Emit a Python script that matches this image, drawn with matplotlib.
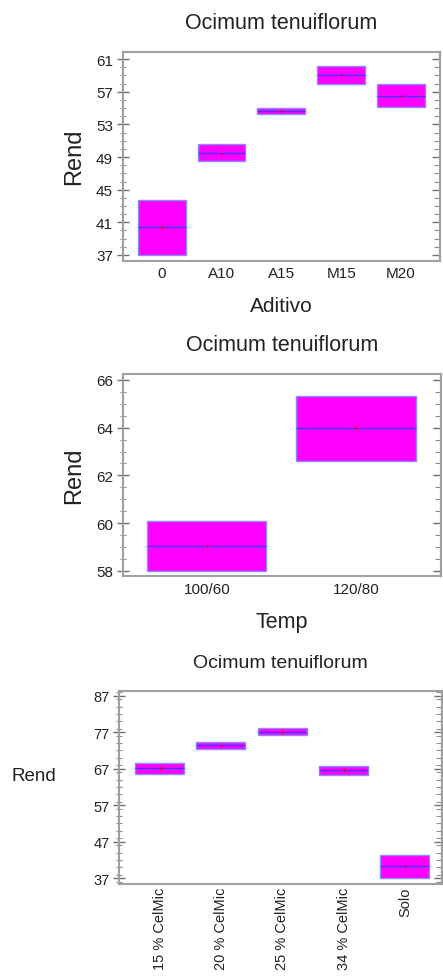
import matplotlib
matplotlib.use("Agg")
import matplotlib.pyplot as plt
from matplotlib.ticker import MultipleLocator
import numpy as np

plt.rcParams['font.family'] = ['Liberation Sans', 'DejaVu Sans']

title = "Ocimum tenuiflorum"

# Panel 1: Aditivo
aditivo_cats = ["0", "A10", "A15", "M15", "M20"]
aditivo_low = [37.0, 48.5, 54.3, 58.0, 55.1]
aditivo_med = [40.4, 49.5, 54.6, 59.0, 56.5]
aditivo_high = [43.7, 50.6, 55.0, 60.15, 57.9]

# Panel 2: Temp
temp_cats = ["100/60", "120/80"]
temp_low = [58.0, 62.6]
temp_med = [59.05, 63.97]
temp_high = [60.1, 65.32]

# Panel 3: CelMic
cel_cats = ["15 % CelMic", "20 % CelMic", "25 % CelMic", "34 % CelMic", "Solo"]
cel_low = [65.5, 72.5, 76.3, 65.3, 37.0]
cel_med = [67.1, 73.4, 77.15, 66.6, 40.3]
cel_high = [68.7, 74.4, 78.1, 67.85, 43.5]

W, H = 443, 978
fig = plt.figure(figsize=(W / 100, H / 100), dpi=100)

FILL = '#ff00ff'
EDGE = '#8a8aff'
MED = '#3a3aff'
SPINE = '#a0a0a0'
TXT = '#222222'


def make_ax(left, right, top, bottom):
    return fig.add_axes([left / W, 1 - bottom / H, (right - left) / W, (bottom - top) / H])


def draw(ax, cats, low, med, high, ylim, yticks, minor, xlim, tick_fs, rot=0, xpad=3):
    x = np.arange(len(cats))
    low = np.array(low); med = np.array(med); high = np.array(high)
    ax.bar(x, high - low, bottom=low, width=0.8, color=FILL, edgecolor=EDGE, linewidth=1.0, zorder=2)
    ax.hlines(med, x - 0.4, x + 0.4, color=MED, linewidth=1.0, zorder=3)
    ax.plot(x, med, '+', color='#e00030', markersize=3, markeredgewidth=0.6, zorder=4)
    ax.set_xlim(*xlim)
    ax.set_ylim(*ylim)
    ax.set_xticks(x)
    ax.set_xticklabels(cats, rotation=rot, fontsize=tick_fs, color=TXT)
    ax.set_yticks(yticks)
    ax.set_yticklabels([str(t) for t in yticks], fontsize=tick_fs, color=TXT)
    ax.yaxis.set_minor_locator(MultipleLocator(minor))
    ax.tick_params(axis='x', length=0, pad=xpad)
    ax.tick_params(axis='y', which='major', direction='inout', length=8, width=1, color='#707070', pad=3)
    ax.tick_params(axis='y', which='minor', direction='inout', length=5, width=0.8, color='#909090')
    for s in ax.spines.values():
        s.set_color(SPINE)
        s.set_linewidth(1.5)
    sec = ax.secondary_yaxis('right')
    sec.set_yticks(yticks)
    sec.set_yticklabels([])
    sec.yaxis.set_minor_locator(MultipleLocator(minor))
    sec.tick_params(axis='y', which='major', direction='in', length=6, width=1, color='#707070', labelright=False)
    sec.tick_params(axis='y', which='minor', direction='in', length=4, width=0.8, color='#909090')
    sec.spines['right'].set_color(SPINE)
    sec.spines['right'].set_linewidth(1.5)


# Panel 1
ax1 = make_ax(122.7, 440, 52.7, 261.7)
draw(ax1, aditivo_cats, aditivo_low, aditivo_med, aditivo_high,
     (36.3, 61.9), [37, 41, 45, 49, 53, 57, 61], 1, (-0.65, 4.65), 11, xpad=4)
ax1.set_title(title, fontsize=15.5, color=TXT, pad=17)
ax1.set_ylabel("Rend", fontsize=17, color=TXT, labelpad=8)
ax1.set_xlabel("Aditivo", fontsize=15, color=TXT, labelpad=11.5)

# Panel 2
ax2 = make_ax(122.7, 440.7, 375, 577)
draw(ax2, temp_cats, temp_low, temp_med, temp_high,
     (57.78, 66.25), [58, 60, 62, 64, 66], 0.5, (-0.563, 1.567), 11, xpad=4)
ax2.set_title(title, fontsize=15.5, color=TXT, pad=17)
ax2.set_ylabel("Rend", fontsize=17, color=TXT, labelpad=8)
ax2.set_xlabel("Temp", fontsize=15.5, color=TXT, labelpad=11)

# Panel 3
ax3 = make_ax(119.3, 442.3, 692, 884.7)
draw(ax3, cel_cats, cel_low, cel_med, cel_high,
     (35.5, 88.3), [37, 47, 57, 67, 77, 87], 2, (-0.657, 4.61), 10.5, rot=90, xpad=2)
ax3.set_title(title, fontsize=14, color=TXT, pad=17)
fig.text(33.5 / W, 1 - 776.7 / H, "Rend", fontsize=13.5, color=TXT, ha='center', va='center')

fig.savefig("out.png", dpi=100)
